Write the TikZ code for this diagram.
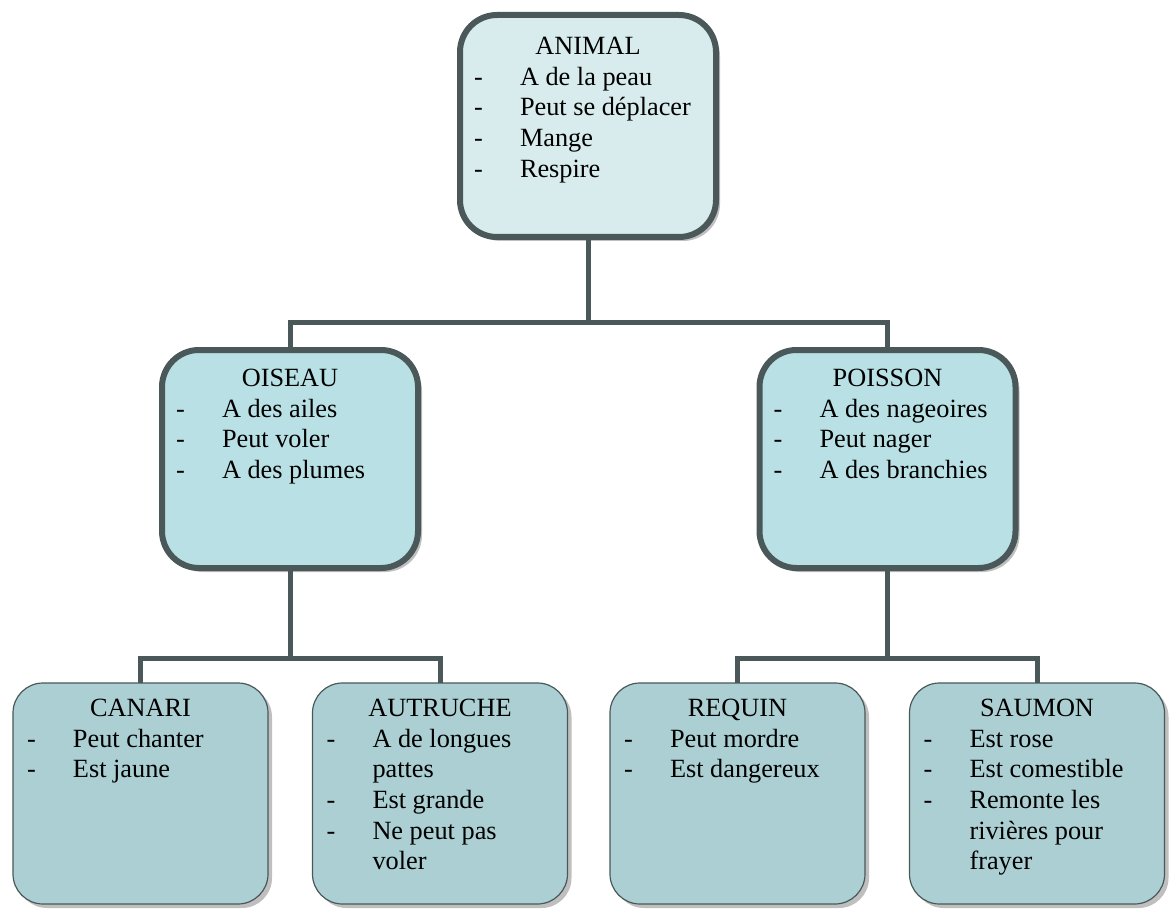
\documentclass[tikz,border=0pt]{standalone}
\usepackage{fontspec}
\setmainfont{Liberation Serif}
\usepackage{array}
\usetikzlibrary{shadows}

\definecolor{trait}{HTML}{4A5859}
\definecolor{racine}{HTML}{D8ECEE}
\definecolor{branche}{HTML}{B9E0E4}
\definecolor{feuille}{HTML}{ABCFD2}
\definecolor{ombre}{HTML}{BFBFBF}

% largeur, hauteur, marge haute, titre, lignes
\newcommand{\fiche}[5]{\parbox[t][#2pt][t]{#1pt}{\vspace*{#3pt}\centering\strut #4\par
  \raggedright\begin{tabular}[t]{@{\hspace{14pt}}p{46pt}@{}l@{}}#5\end{tabular}}}

\tikzset{
  boite/.style={draw=trait, inner sep=0pt, outer sep=0pt,
    font=\fontsize{26.3}{30.7}\selectfont,
    drop shadow={shadow xshift=4pt, shadow yshift=-4pt, fill=ombre, opacity=1}},
  haut/.style={boite, line width=6pt, rounded corners=37pt, fill=#1},
  bas/.style={boite, line width=1.2pt, rounded corners=30pt, fill=feuille},
  lien/.style={draw=trait, line width=5pt}
}

\begin{document}
\begin{tikzpicture}[x=1pt, y=-1pt]
\useasboundingbox (0,0) rectangle (1172,909);
\begin{scope}
    \node[haut=racine] (animal) at (588,126) {\fiche{256}{222}{18}{ANIMAL}{%
      - & A de la peau\\ - & Peut se déplacer\\ - & Mange\\ - & Respire}};

    \node[haut=branche] (oiseau) at (290,459) {\fiche{256}{218}{15}{OISEAU}{%
      - & A des ailes\\ - & Peut voler\\ - & A des plumes}};
    \node[haut=branche] (poisson) at (887.5,459) {\fiche{256}{218}{15}{POISSON}{%
      - & A des nageoires\\ - & Peut nager\\ - & A des branchies}};

    \node[bas] (canari) at (140.5,793.5) {\fiche{255}{221}{12}{CANARI}{%
      - & Peut chanter\\ - & Est jaune}};
    \node[bas] (autruche) at (440,793.5) {\fiche{255}{221}{12}{AUTRUCHE}{%
      - & A de longues\\ & pattes\\ - & Est grande\\ - & Ne peut pas\\ & voler}};
    \node[bas] (requin) at (737.5,793.5) {\fiche{255}{221}{12}{REQUIN}{%
      - & Peut mordre\\ - & Est dangereux}};
    \node[bas] (saumon) at (1037,793.5) {\fiche{255}{221}{12}{SAUMON}{%
      - & Est rose\\ - & Est comestible\\ - & Remonte les\\ & rivières pour\\ & frayer}};

    \coordinate (bus1) at (588,322);
    \coordinate (bus2) at (290,658);
    \coordinate (bus3) at (887.5,658);

    \draw [lien] (animal.south) -- (bus1);
    \draw [lien] (oiseau.north) |- (bus1) -| (poisson.north);
    \draw [lien] (oiseau.south) -- (bus2);
    \draw [lien] (canari.north) |- (bus2) -| (autruche.north);
    \draw [lien] (poisson.south) -- (bus3);
    \draw [lien] (requin.north) |- (bus3) -| (saumon.north);
\end{scope}
\end{tikzpicture}
\end{document}
